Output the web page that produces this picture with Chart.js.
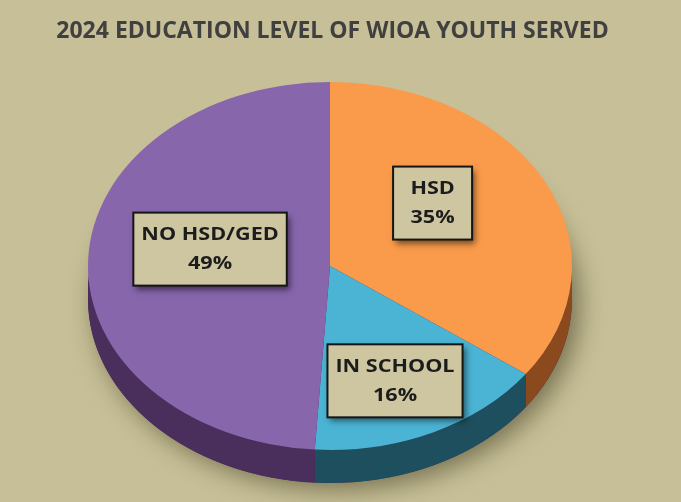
<!DOCTYPE html>
<html>
<head>
<meta charset="utf-8">
<script src="https://cdn.jsdelivr.net/npm/chart.js@4"></script>
<style>
  html, body { margin: 0; padding: 0; background: #C6BF97; }
  #wrap { width: 681px; height: 502px; }
</style>
</head>
<body>
<div id="wrap"><canvas id="edu-chart" width="681" height="502"></canvas></div>
<script>
const categories = ['HSD', 'IN SCHOOL', 'NO HSD/GED'];
const shares = [35, 16, 49];
const topColors = ['#F99B4A', '#4BB3D3', '#8766AC'];
const sideColors = ['#8A4A1E', '#1D4F5E', '#4A2E5C'];

// where the tilted pie sits on the page
const CENTER_X = 330;
const CENTER_Y = 266;
const RADIUS = 242;
const TILT = 0.76;
const DEPTH = 33;

// label spot per slice: fraction of radius along the mid angle, plus a nudge
const labelSpots = [
    { r: 0.55, dx: -16, dy: -17 },
    { r: 0.66, dx: -3, dy: 5 },
    { r: 0.50, dx: 1, dy: -14 }
];

function drawWalls(ctx, meta) {
    // soft shadow under the pie
    ctx.save();
    ctx.shadowColor = 'rgba(40, 35, 10, 0.5)';
    ctx.shadowBlur = 24;
    ctx.shadowOffsetX = 7;
    ctx.shadowOffsetY = 6;
    ctx.fillStyle = sideColors[2];
    ctx.beginPath();
    ctx.ellipse(CENTER_X, CENTER_Y + DEPTH, RADIUS, RADIUS * TILT, 0, 0, Math.PI * 2);
    ctx.fill();
    ctx.restore();

    meta.data.forEach((arc, i) => {
        [0, Math.PI * 2].forEach(base => {
            const a = Math.max(arc.startAngle, base);
            const b = Math.min(arc.endAngle, base + Math.PI);
            if (b <= a) return;
            ctx.fillStyle = sideColors[i];
            ctx.beginPath();
            ctx.ellipse(CENTER_X, CENTER_Y, RADIUS, RADIUS * TILT, 0, a, b, false);
            ctx.ellipse(CENTER_X, CENTER_Y + DEPTH, RADIUS, RADIUS * TILT, 0, b, a, true);
            ctx.closePath();
            ctx.fill();
        });
    });
}

const STRETCH = 1.2;

function drawLabels(ctx, meta) {
    ctx.save();
    ctx.font = 'bold 18px "Open Sans"';
    ctx.textAlign = 'center';
    ctx.textBaseline = 'middle';
    meta.data.forEach((arc, i) => {
        const mid = (arc.startAngle + arc.endAngle) / 2;
        const spot = labelSpots[i];
        const x = CENTER_X + RADIUS * spot.r * Math.cos(mid) + spot.dx;
        const y = CENTER_Y + RADIUS * TILT * spot.r * Math.sin(mid) + spot.dy;
        const lines = [categories[i], shares[i] + '%'];
        const textW = STRETCH * Math.max(...lines.map(t => ctx.measureText(t).width));
        const w = Math.max(textW + 16, 79);
        const h = 73;

        ctx.save();
        ctx.shadowColor = 'rgba(0, 0, 0, 0.5)';
        ctx.shadowBlur = 6;
        ctx.shadowOffsetX = 3;
        ctx.shadowOffsetY = 4;
        ctx.fillStyle = '#CEC6A0';
        ctx.fillRect(x - w / 2, y - h / 2, w, h);
        ctx.restore();

        ctx.lineWidth = 2;
        ctx.strokeStyle = '#151515';
        ctx.strokeRect(x - w / 2, y - h / 2, w, h);

        ctx.save();
        ctx.translate(x, y);
        ctx.scale(STRETCH, 1);
        ctx.fillStyle = '#1C1C1C';
        ctx.fillText(lines[0], 0, -14);
        ctx.fillText(lines[1], 0, 15);
        ctx.restore();
    });
    ctx.restore();
}

const tiltedPie = {
    id: 'tiltedPie',
    beforeDatasetsDraw(chart) {
        const ctx = chart.ctx;
        const meta = chart.getDatasetMeta(0);
        const arc0 = meta.data[0];
        const s = RADIUS / arc0.outerRadius;
        drawWalls(ctx, meta);
        ctx.save();
        ctx.translate(CENTER_X, CENTER_Y);
        ctx.scale(s, s * TILT);
        ctx.translate(-arc0.x, -arc0.y);
    },
    afterDatasetsDraw(chart) {
        chart.ctx.restore();
        drawLabels(chart.ctx, chart.getDatasetMeta(0));
    }
};

new Chart(document.getElementById('edu-chart').getContext('2d'), {
    type: 'pie',
    data: {
        labels: categories,
        datasets: [{
            data: shares,
            backgroundColor: topColors,
            borderWidth: 0,
            clip: false
        }]
    },
    options: {
        responsive: false,
        animation: false,
        events: [],
        layout: { padding: { left: 4, right: 20, bottom: 10 } },
        plugins: {
            legend: { display: false },
            tooltip: { enabled: false },
            title: {
                display: true,
                text: '2024 EDUCATION LEVEL OF WIOA YOUTH SERVED',
                color: '#404040',
                font: { family: 'Open Sans', size: 23, weight: 'bold' },
                padding: { top: 18, bottom: 10 }
            }
        }
    },
    plugins: [tiltedPie]
});
</script>
</body>
</html>
